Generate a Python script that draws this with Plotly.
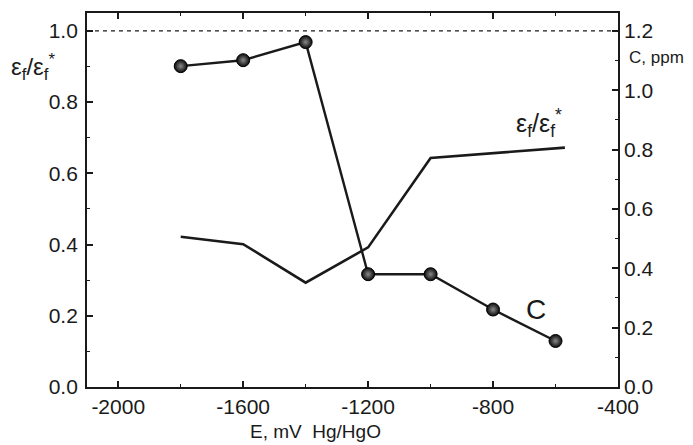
import plotly.graph_objects as go

# Potential E (mV vs Hg/HgO)
e_ratio_E = [-1800, -1600, -1400, -1200, -1000, -570]
e_ratio = [0.422, 0.401, 0.293, 0.392, 0.643, 0.672]

conc_E = [-1800, -1600, -1400, -1200, -1000, -800, -600]
conc_ppm = [1.081, 1.101, 1.162, 0.380, 0.380, 0.261, 0.155]

x_ticks = [-2000, -1600, -1200, -800, -400]
x_ticklabels = ["-2000", "-1600", "-1200", "-800", "-400"]
ref_level = 1.0

FONT = "Liberation Sans, Arial, sans-serif"
ink = "#1a1a1a"

fig = go.Figure()

fig.add_trace(go.Scatter(
    x=e_ratio_E, y=e_ratio, mode="lines",
    line=dict(color=ink, width=2.6), yaxis="y", showlegend=False,
))

fig.add_trace(go.Scatter(
    x=conc_E, y=conc_ppm, mode="lines+markers",
    line=dict(color=ink, width=2.4),
    marker=dict(size=13, color="#0a0a0a",
                gradient=dict(type="radial", color="#8a8a8a"),
                line=dict(color="#000000", width=1)),
    yaxis="y2", showlegend=False,
))

# dashed reference level at epsilon ratio = 1
fig.add_shape(type="line", xref="paper", x0=0, x1=1, yref="y", y0=ref_level, y1=ref_level,
              line=dict(color=ink, width=1.2, dash="4px,4px"))

tick_font = dict(family=FONT, size=21, color=ink)
common = dict(showline=True, linecolor=ink, linewidth=1.8, ticks="inside",
              tickcolor=ink, tickwidth=1.5, ticklen=6, showgrid=False,
              zeroline=False, tickfont=tick_font)

fig.update_layout(
    width=693, height=445,
    margin=dict(l=87, r=75, t=13, b=58),
    paper_bgcolor="white", plot_bgcolor="white",
    xaxis=dict(range=[-2100, -400], tickmode="array", tickvals=x_ticks,
               ticktext=x_ticklabels, mirror="ticks",
               minor=dict(dtick=200, tick0=-2000, ticks="inside", ticklen=3,
                          tickcolor=ink, tickwidth=1.2),
               **common),
    yaxis=dict(range=[0, 1.05], dtick=0.2, tick0=0, tickformat=".1f",
               ticklabelstandoff=3,
               minor=dict(dtick=0.1, ticks="inside", ticklen=3,
                          tickcolor=ink, tickwidth=1.2),
               **common),
    yaxis2=dict(range=[0, 1.26], dtick=0.2, tick0=0, tickformat=".1f",
                overlaying="y", side="right",
                minor=dict(dtick=0.1, ticks="inside", ticklen=3,
                           tickcolor=ink, tickwidth=1.2),
                **common),
)

ratio_label = "ε<sub>f</sub>/ε<sub>f</sub><sup>*</sup>"

fig.add_annotation(text=ratio_label, xref="paper", yref="paper", x=-0.147, y=0.855,
                   xanchor="left", yanchor="middle", showarrow=False,
                   font=dict(family=FONT, size=24, color=ink))
fig.add_annotation(text="C, ppm", xref="paper", yref="paper", x=1.017, y=0.882,
                   xanchor="left", yanchor="middle", showarrow=False,
                   font=dict(family=FONT, size=17, color=ink))
fig.add_annotation(text=ratio_label, xref="x", yref="y", x=-652, y=0.74,
                   xanchor="center", yanchor="middle", showarrow=False,
                   font=dict(family=FONT, size=25, color=ink))
fig.add_annotation(text="C", xref="x", yref="y2", x=-664, y=0.262,
                   xanchor="center", yanchor="middle", showarrow=False,
                   font=dict(family=FONT, size=28, color=ink))
fig.add_annotation(text="E, mV  Hg/HgO", xref="paper", yref="paper", x=0.43, y=-0.12,
                   xanchor="center", yanchor="middle", showarrow=False,
                   font=dict(family=FONT, size=19, color=ink))

fig.write_html("out.html")
